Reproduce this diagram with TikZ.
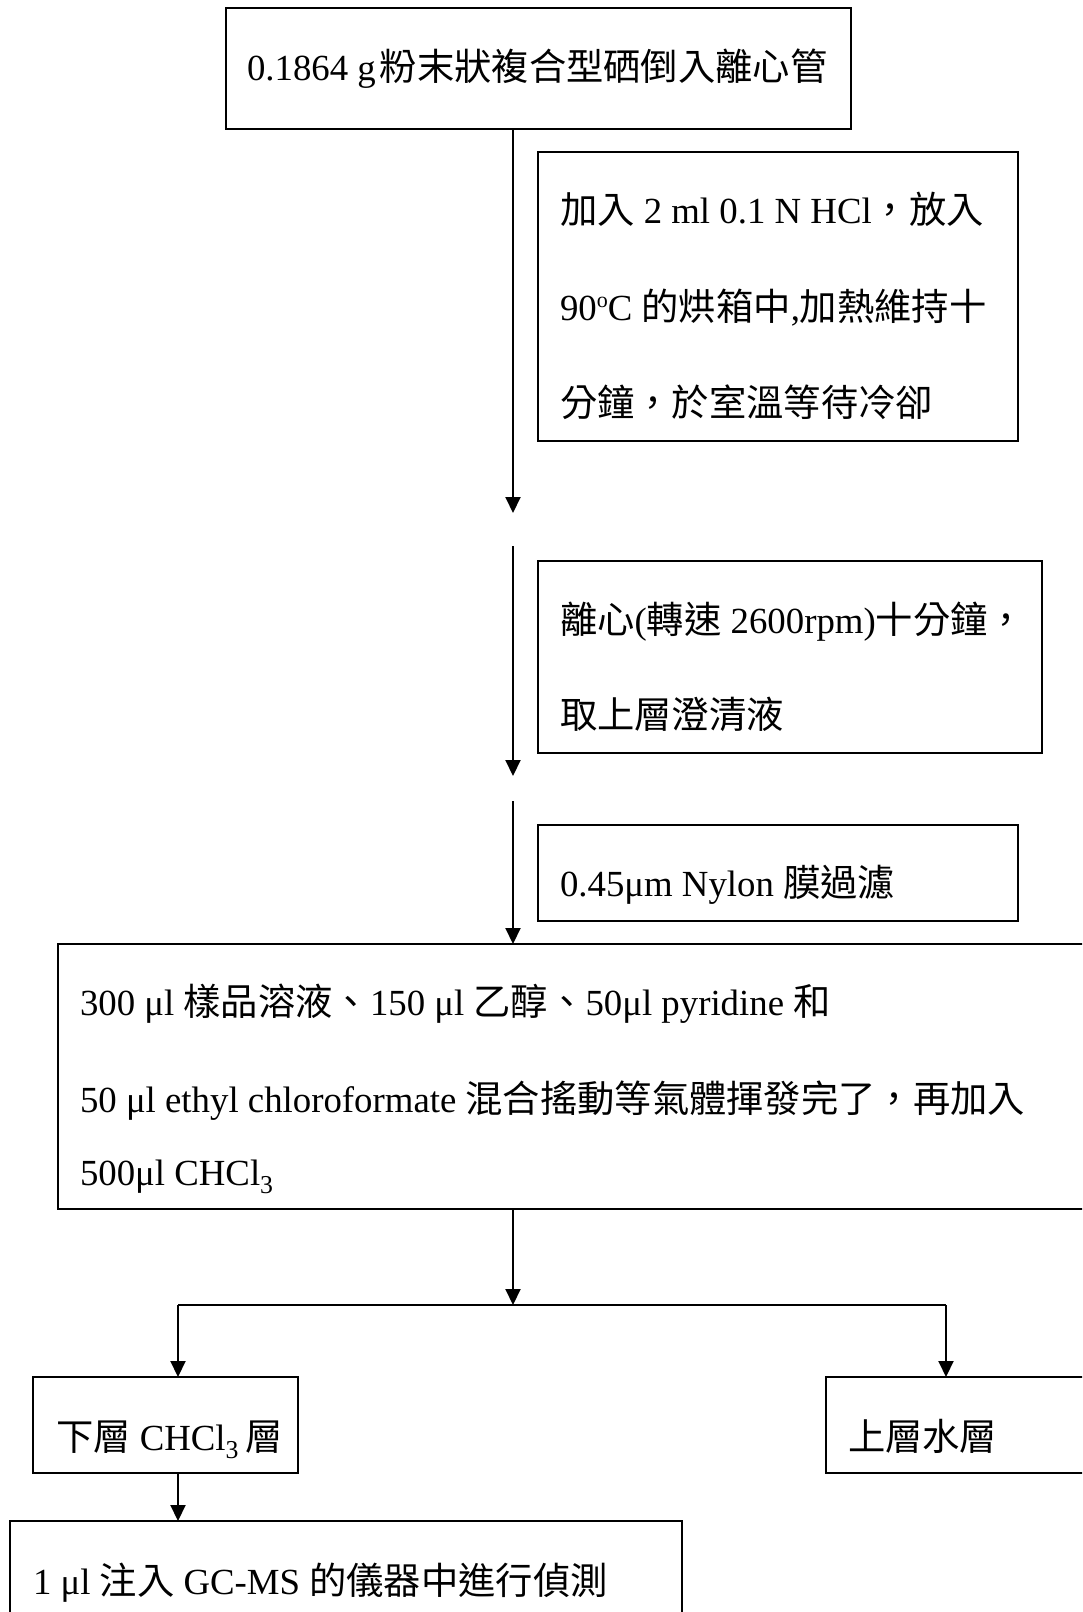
\documentclass[tikz,border=0pt]{standalone}
\usepackage{fontspec}
\setmainfont{Liberation Serif}
\newfontfamily\cjk{Noto Sans CJK TC}
\usetikzlibrary{arrows.meta}
\newcommand\zh[1]{{\cjk\fontsize{37.3}{42}\selectfont #1}}
\newcommand\degsup{\raisebox{0.33em}{\fontsize{22}{22}\selectfont o}}
\tikzset{
  box/.style={draw, line width=2pt, inner sep=0pt, outer sep=0pt, rectangle, anchor=north west},
  txt/.style={anchor=base west, inner sep=0pt, outer sep=0pt, font=\fontsize{36.8}{42}\selectfont},
  conn/.style={line width=2pt},
  arr/.style={conn, -{Triangle[length=16pt,width=15pt]}},
}
\begin{document}
\begin{tikzpicture}[x=1pt,y=-1pt]
\useasboundingbox (0,0) rectangle (1082,1612);
\fill[white] (0,0) rectangle (1082,1612);
\clip (0,0) rectangle (1082,1612);

% boxes
\node[box, minimum width=625pt, minimum height=121pt] (top) at (226,8) {};
\node[box, minimum width=480pt, minimum height=289pt] (heat) at (538,152) {};
\node[box, minimum width=504pt, minimum height=192pt] (cent) at (538,561) {};
\node[box, minimum width=480pt, minimum height=96pt] (filt) at (538,825) {};
\node[box, minimum width=1032pt, minimum height=265pt] (mix) at (58,944) {};
\node[box, minimum width=265pt, minimum height=96pt] (lower) at (33,1377) {};
\node[box, minimum width=264pt, minimum height=96pt] (upper) at (826,1377) {};
\node[box, minimum width=672pt, minimum height=120pt] (final) at (10,1521) {};

% texts
\node[txt] (t0) at (247,80) {0.1864 g\hspace{4pt}\zh{粉末狀複合型硒倒入離心管}};
\node[txt] (t1a) at (560,223) {\zh{加入} 2 ml 0.1 N HCl\zh{，放入}};
\node[txt] (t1b) at (560,320) {90\degsup C \zh{的烘箱中},\zh{加熱維持十}};
\node[txt] (t1c) at (560,416) {\zh{分鐘，於室溫等待冷卻}};
\node[txt] (t2a) at (560,633) {\zh{離心}(\zh{轉速} 2600rpm)\zh{十分鐘，}};
\node[txt] (t2b) at (560,728) {\zh{取上層澄清液}};
\node[txt] (t3) at (560,896) {0.45μm Nylon \zh{膜過濾}};
\node[txt] (t4a) at (80,1015) {300 μl \zh{樣品溶液、}150 μl \zh{乙醇、}50μl pyridine \zh{和}};
\node[txt] (t4b) at (80,1112) {50 μl ethyl chloroformate \zh{混合搖動等氣體揮發完了，再加入}};
\node[txt] (t4c) at (80,1185) {500μl CHCl\textsubscript{3}};
\node[txt] (t5) at (56,1450) {\zh{下層} CHCl\textsubscript{3}\,\zh{層}};
\node[txt] (t6) at (848,1450) {\zh{上層水層}};
\node[txt] (t7) at (33,1594) {1 μl \zh{注入} GC-MS \zh{的儀器中進行偵測}};

% connectors
\coordinate (spine) at (513,0);
\coordinate (a1) at (513,513);
\coordinate (s2) at (513,546);
\coordinate (a2) at (513,776);
\coordinate (s3) at (513,801);
\coordinate (split) at (513,1305);
\coordinate (bl) at (178,1305);
\coordinate (br) at (946,1305);

\draw[arr] (top.south -| spine) -- (a1);
\draw[arr] (s2) -- (a2);
\draw[arr] (s3) -- (mix.north -| spine);
\draw[arr] (mix.south -| spine) -- (split);
\draw[conn] (bl) -- (br);
\draw[arr] (bl) -- (bl |- lower.north);
\draw[arr] (br) -- (br |- upper.north);
\draw[arr] (bl |- lower.south) -- (bl |- final.north);
\end{tikzpicture}
\end{document}
